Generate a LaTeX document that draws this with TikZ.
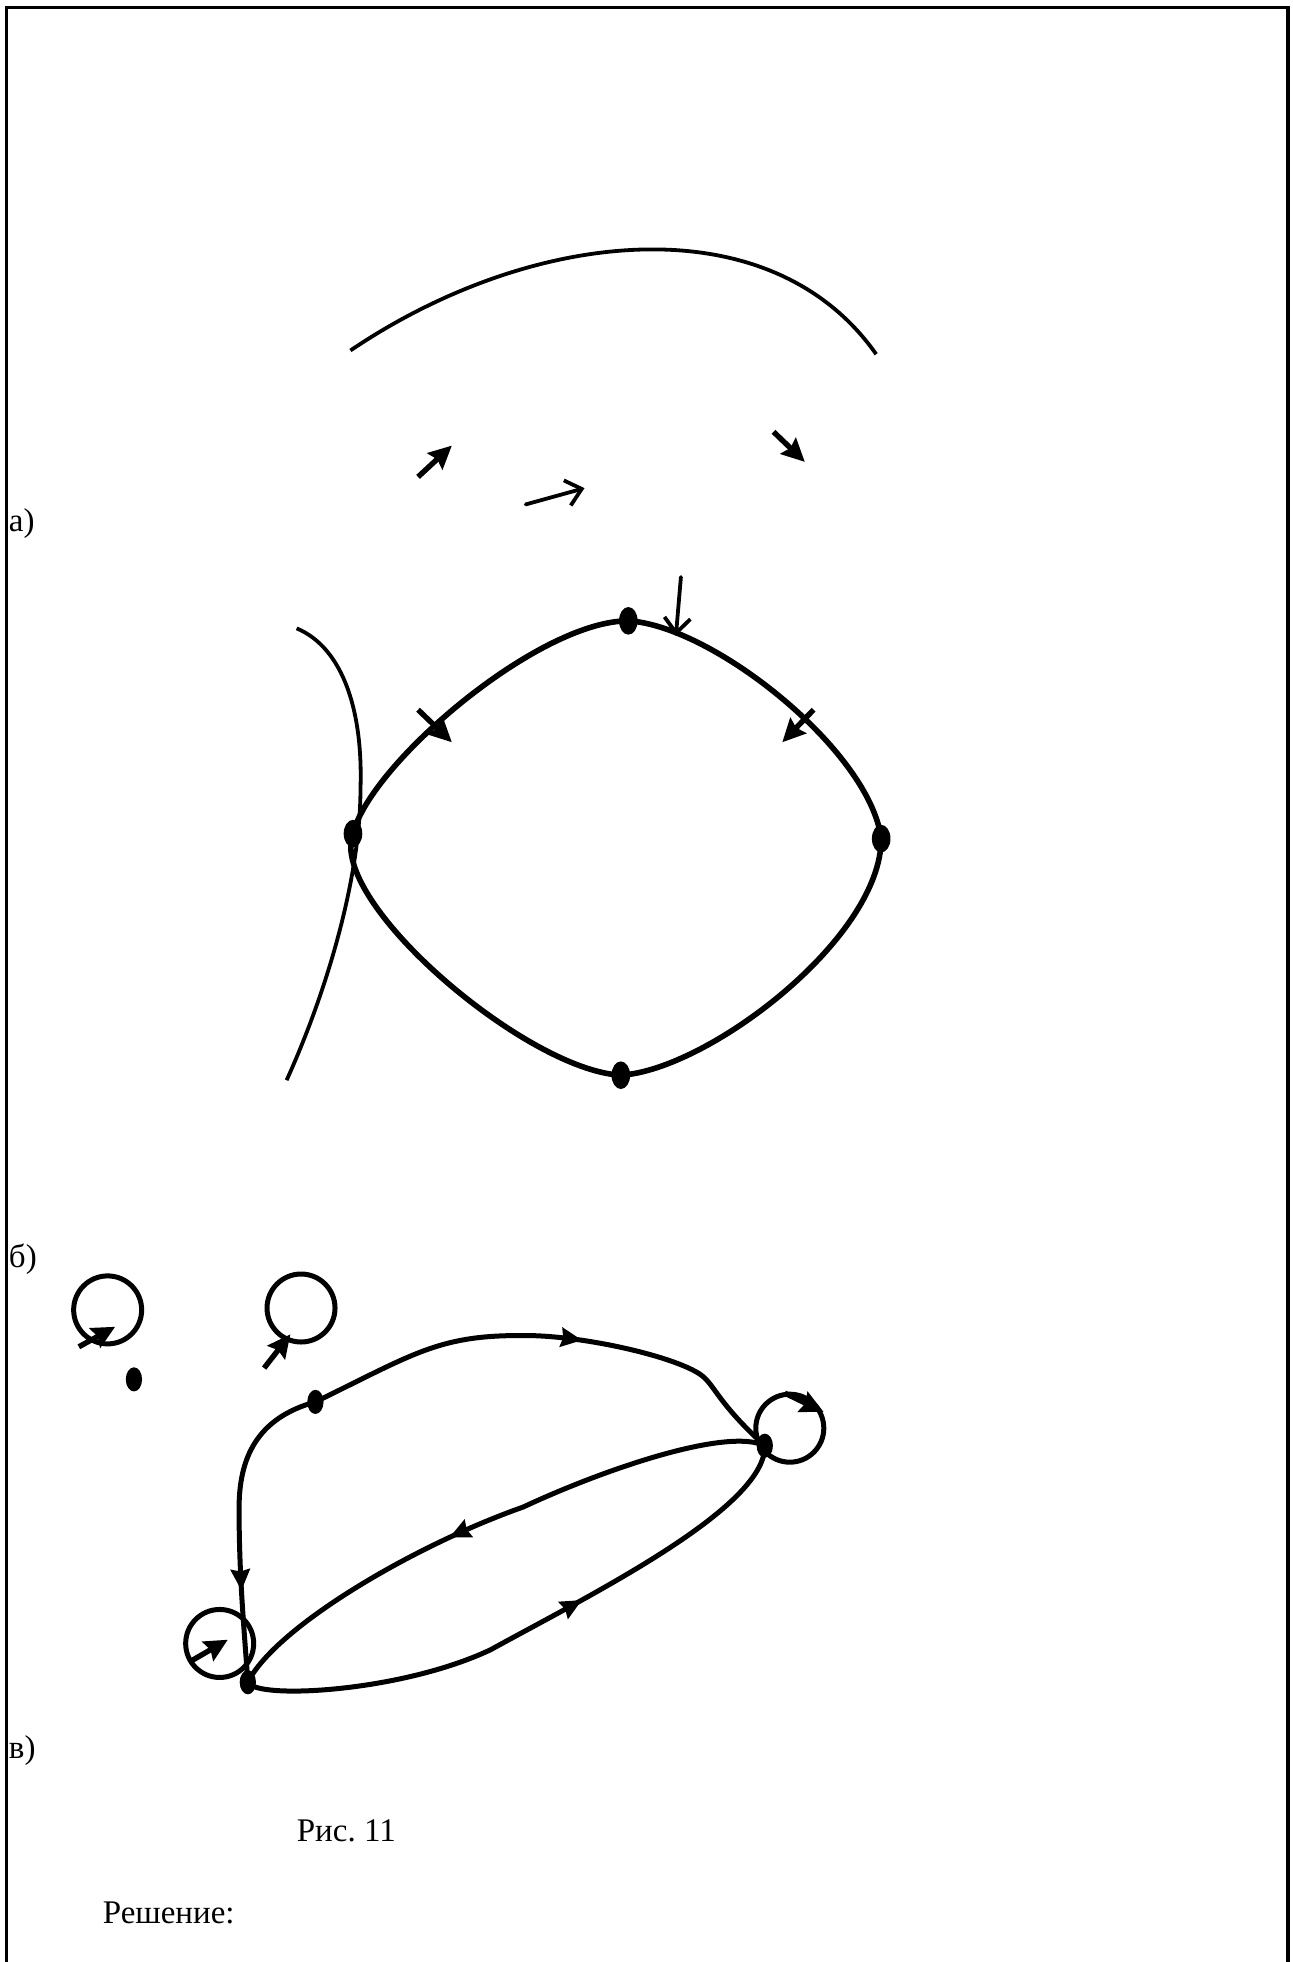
\documentclass[tikz,border=0pt]{standalone}
\usepackage{fontspec}
\setmainfont{Liberation Serif}
\usetikzlibrary{arrows.meta,decorations.markings,shapes.geometric}
\tikzset{
  dot/.style={draw=none,fill=black,ellipse,minimum width=#1*1.55pt,minimum height=#1*2.3pt,inner sep=0pt},
  dot/.default=12,
  lbl/.style={anchor=base west,inner sep=0pt,font=\fontsize{33}{36}\selectfont},
  frameline/.style={line width=3.5pt},
  thinarc/.style={line width=3.8pt},
  ring/.style={line width=5.6pt},
  graphedge/.style={line width=5pt},
  loopc/.style={line width=5pt},
  solidarrow/.style={line width=5.4pt,-{Stealth[length=23pt,width=22pt,inset=3pt]}},
  openarrow/.style={line width=3.8pt,line cap=round,-{Straight Barb[length=15pt,width=26pt,line width=3.8pt]}},
  midarrow/.style={postaction={decorate,decoration={markings,mark=at position #1 with {\arrow{Stealth[length=21pt,width=19pt,inset=2pt]}}}}},
}
\begin{document}
\begin{tikzpicture}[x=1.2517pt,y=-1.2517pt]
\useasboundingbox (0,0) rectangle (1033,1567.5);
\fill[white] (0,0) rectangle (1033,1567.5);
% frame
\coordinate (fa) at (5,1570); \coordinate (fb) at (5,6); \coordinate (fc) at (1029,6); \coordinate (fd) at (1029,1570);
\draw[frameline] (fa) -- (fb) -- (fc) -- (fd);
% labels
\node[lbl] (la) at (7,425) {а)};
\node[lbl] (lb) at (7,1013) {б)};
\node[lbl] (lc) at (7,1405) {в)};
\node[lbl] (cap) at (237,1471) {Рис.\ 11};
\node[lbl] (sol) at (82,1537) {Решение:};
% part a
\coordinate (t1) at (280,280); \coordinate (t2) at (700,283);
\draw[thinarc] (t1) .. controls (425,182) and (615,162) .. (t2);
\coordinate (a1s) at (334,381); \coordinate (a1e) at (361,356);
\coordinate (a2s) at (420,403); \coordinate (a2e) at (467,390);
\coordinate (a3s) at (618,345); \coordinate (a3e) at (643,369);
\draw[solidarrow] (a1s) -- (a1e);
\draw[openarrow] (a2s) -- (a2e);
\draw[solidarrow] (a3s) -- (a3e);
% part b
\node[dot] (top) at (502,496) {};
\node[dot] (right) at (704,670) {};
\node[dot] (bot) at (496,859) {};
\node[dot] (left) at (282,666) {};
\draw[ring] (left.center) .. controls (296,610) and (430,496) .. (top.center);
\draw[ring] (top.center) .. controls (570,500) and (695,600) .. (right.center);
\draw[ring] (right.center) .. controls (704,750) and (565,855) .. (bot.center);
\draw[ring] (bot.center) .. controls (420,855) and (262,720) .. (left.center);
\coordinate (c1) at (237,502); \coordinate (c2) at (288,630); \coordinate (c3) at (229,863);
\draw[thinarc] (c1) .. controls (275,518) and (290,570) .. (c2) .. controls (288,700) and (262,790) .. (c3);
\coordinate (b1s) at (544,461); \coordinate (b1e) at (540,508);
\coordinate (b2s) at (334,567); \coordinate (b2e) at (361,593);
\coordinate (b3s) at (650,567); \coordinate (b3e) at (625,593);
\draw[openarrow] (b1s) -- (b1e);
\draw[solidarrow] (b2s) -- (b2e);
\draw[solidarrow] (b3s) -- (b3e);
% part c
\node[dot=10.5] (lone) at (107,1102) {};
\node[dot=10.5] (A) at (252,1120) {};
\node[dot=10.5] (B) at (611,1155) {};
\node[dot=10.5] (C) at (198,1344) {};
\node[draw,circle,loopc,minimum size=68pt,inner sep=0pt] (l1) at (86,1046.5) {};
\node[draw,circle,loopc,minimum size=68pt,inner sep=0pt] (l2) at (240.5,1045) {};
\node[draw,circle,loopc,minimum size=68pt,inner sep=0pt] (l3) at (631,1141) {};
\node[draw,circle,loopc,minimum size=68pt,inner sep=0pt] (l4) at (175.5,1313) {};
\coordinate (d1s) at (63,1076); \coordinate (d1e) at (92,1060);
\coordinate (d2s) at (211,1093); \coordinate (d2e) at (232,1066);
\coordinate (d3s) at (151,1328); \coordinate (d3e) at (182,1310);
\coordinate (d4s) at (627,1113); \coordinate (d4e) at (658,1128);
\draw[solidarrow] (d1s) -- (d1e);
\draw[solidarrow] (d2s) -- (d2e);
\draw[solidarrow] (d3s) -- (d3e);
\draw[solidarrow] (d4s) -- (d4e);
\draw[graphedge,midarrow=0.56] (A.center) .. controls (330,1082) and (350,1067) .. (415,1067)
   .. controls (465,1066) and (545,1085) .. (562,1100) .. controls (572,1109) and (575,1122) .. (B.center);
\draw[graphedge,midarrow=0.71] (A.center) .. controls (205,1133) and (191,1165) .. (191,1205)
   .. controls (191,1260) and (195,1300) .. (C.center);
\draw[graphedge,midarrow=0.57] (B.center) .. controls (580,1140) and (480,1175) .. (418,1204)
   .. controls (330,1235) and (220,1300) .. (C.center);
\draw[graphedge,midarrow=0.59] (C.center) .. controls (205,1358) and (320,1352) .. (392,1318)
   .. controls (470,1275) and (612,1205) .. (B.center);
\end{tikzpicture}
\end{document}
